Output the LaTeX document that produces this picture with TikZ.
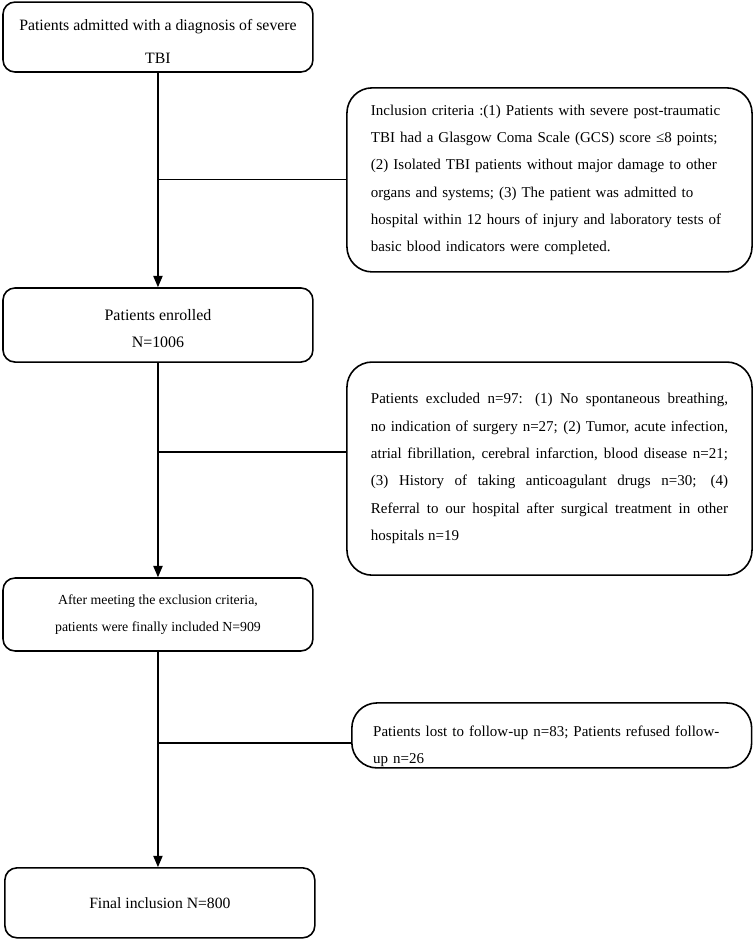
\documentclass[tikz,border=0pt]{standalone}
\usepackage{fontspec}
\setmainfont{Liberation Serif}
\usetikzlibrary{shapes,arrows.meta,positioning,calc}

\begin{document}
\begin{tikzpicture}[
    font=\fontsize{11.3}{20.6}\selectfont,
    mainbox/.style={draw, line width=1.2pt, rounded corners=9pt, align=center, minimum width=8.2cm, inner sep=0pt},
    sidebox/.style={draw, line width=1.2pt, rounded corners=19pt, text width=9.45cm, minimum width=10.72cm, inner sep=0pt},
    flow/.style={line width=0.9pt, -{Triangle[width=7pt,length=8.5pt]}},
    branch/.style={line width=0.9pt}
]

\useasboundingbox (0,0) rectangle (20.0,-24.9);

\node[mainbox, minimum height=1.85cm, font=\fontsize{11.9}{25}\selectfont] (admit) at (4.18,-0.98) {\rule{0pt}{15pt}Patients admitted with a diagnosis of severe\\TBI};

\node[mainbox, minimum height=1.96cm, font=\fontsize{12}{20.5}\selectfont] (enrol) at (4.18,-8.6) {\rule{0pt}{14pt}Patients enrolled\\N=1006};

\node[mainbox, minimum height=1.93cm, font=\fontsize{10.4}{20.3}\selectfont] (after) at (4.18,-16.26) {After meeting the exclusion criteria,\\patients were finally included N=909};

\node[mainbox, minimum height=1.85cm, font=\fontsize{11.8}{20}\selectfont] (final) at (4.23,-23.89) {Final inclusion N=800};

\node[sidebox, minimum height=4.87cm, align=left] (incl) at (14.54,-4.76) {Inclusion criteria :(1) Patients with severe post-traumatic\\TBI had a Glasgow Coma Scale (GCS) score ≤8 points;\\(2) Isolated TBI patients without major damage to other\\organs and systems; (3) The patient was admitted to\\hospital within 12 hours of injury and laboratory tests of\\basic blood indicators were completed.};

\node[sidebox, minimum height=5.64cm, align=justify] (excl) at (14.54,-12.4) {Patients excluded n=97: (1) No spontaneous breathing,\linebreak no indication of surgery n=27; (2) Tumor, acute infection,\linebreak atrial fibrillation, cerebral infarction, blood disease n=21;\linebreak (3) History of taking anticoagulant drugs n=30; (4)\linebreak Referral to our hospital after surgical treatment in other\linebreak hospitals n=19};

\node[sidebox, minimum width=10.58cm, minimum height=1.72cm, align=left] (lost) at (14.6,-19.46) {\rule{0pt}{24pt}Patients lost to follow-up n=83; Patients refused follow-\\up n=26};

\coordinate (j1) at (4.18,-4.74);
\coordinate (j2) at (4.18,-11.96);
\coordinate (j3) at (4.18,-19.66);

\draw[flow] (admit) -- (enrol);
\draw[flow] (enrol) -- (after);
\draw[flow] (after.south) -- (after.south |- final.north);

\draw[branch] (j1) -- (j1 -| incl.west);
\draw[branch] (j2) -- (j2 -| excl.west);
\draw[branch] (j3) -- (j3 -| lost.west);

\end{tikzpicture}
\end{document}
